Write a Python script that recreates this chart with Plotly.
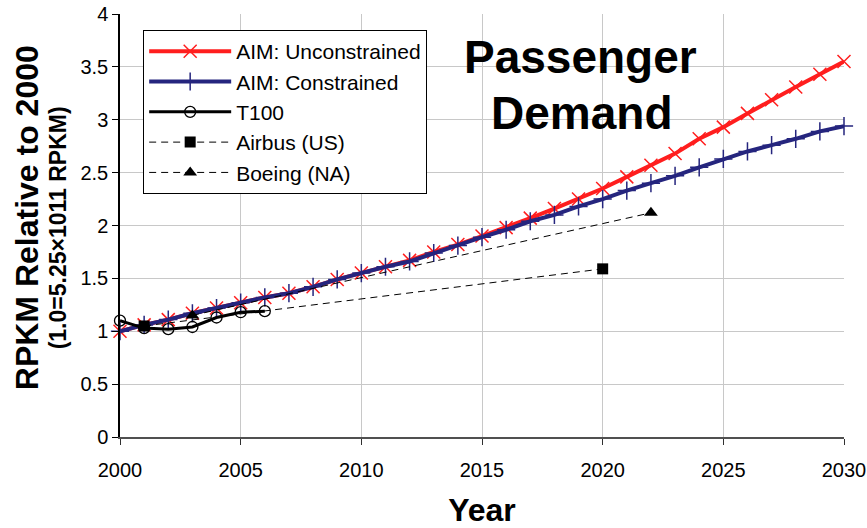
import plotly.graph_objects as go

# Revenue passenger-km relative to the year 2000
years = list(range(2000, 2031))

aim_unconstrained = [1.00, 1.06, 1.11, 1.17, 1.22, 1.27, 1.32, 1.36, 1.42, 1.49,
                     1.55, 1.61, 1.67, 1.75, 1.82, 1.90, 1.98, 2.07, 2.16, 2.25,
                     2.35, 2.46, 2.57, 2.68, 2.82, 2.93, 3.06, 3.19, 3.31, 3.43,
                     3.55]
aim_constrained = [1.00, 1.06, 1.11, 1.17, 1.22, 1.27, 1.32, 1.36, 1.42, 1.49,
                   1.55, 1.61, 1.66, 1.74, 1.81, 1.89, 1.96, 2.04, 2.10, 2.18,
                   2.25, 2.33, 2.40, 2.47, 2.55, 2.63, 2.70, 2.76, 2.82, 2.89,
                   2.94]

t100_years = [2000, 2001, 2002, 2003, 2004, 2005, 2006]
t100_values = [1.10, 1.03, 1.02, 1.04, 1.13, 1.18, 1.19]

airbus_years = [2001, 2020]
airbus_values = [1.05, 1.59]

boeing_years = [2003, 2022]
boeing_values = [1.15, 2.12]

x_ticks = [2000, 2005, 2010, 2015, 2020, 2025, 2030]
y_ticks = [0, 0.5, 1, 1.5, 2, 2.5, 3, 3.5, 4]

FONT = "Liberation Sans, Arial, sans-serif"
RED = "#FF1E1E"
NAVY = "#25257E"

fig = go.Figure()

fig.add_trace(go.Scatter(
    x=years, y=aim_unconstrained, name="AIM: Unconstrained",
    mode="lines+markers", legendgroup="a",
    line=dict(color=RED, width=4),
    marker=dict(symbol="x-thin", size=13, line=dict(color=RED, width=1.5)),
    cliponaxis=False,
))
fig.add_trace(go.Scatter(
    x=years, y=aim_constrained, name="AIM: Constrained",
    mode="lines+markers", legendgroup="b",
    line=dict(color=NAVY, width=4),
    marker=dict(symbol="cross-thin", size=13, line=dict(color=NAVY, width=1.5)),
    cliponaxis=False,
))
fig.add_trace(go.Scatter(
    x=t100_years, y=t100_values, name="T100",
    mode="lines+markers", legendgroup="c",
    line=dict(color="black", width=3),
    marker=dict(symbol="circle-open", size=11, color="black",
                line=dict(color="black", width=1.3)),
    cliponaxis=False,
))
fig.add_trace(go.Scatter(
    x=airbus_years, y=airbus_values, name="Airbus (US)",
    mode="lines+markers", legendgroup="d",
    line=dict(color="black", width=1, dash="7px,5px"),
    marker=dict(symbol="square", size=11, color="black"),
    cliponaxis=False,
))
fig.add_trace(go.Scatter(
    x=boeing_years, y=boeing_values, name="Boeing (NA)",
    mode="lines+markers", legendgroup="e",
    line=dict(color="black", width=1, dash="7px,5px"),
    marker=dict(symbol="triangle-up", size=12, color="black"),
    cliponaxis=False,
))

# Y-axis title in two sizes, plus the chart heading inside the plot area
annotations = [
    dict(text="<b>RPKM Relative to 2000</b>", x=-0.128, y=0.518,
         xref="paper", yref="paper", textangle=-90, showarrow=False,
         xanchor="center", yanchor="middle",
         font=dict(family=FONT, size=32, color="black")),
    dict(text="<b>(1.0=5.25×1011 RPKM)</b>", x=-0.086, y=0.495,
         xref="paper", yref="paper", textangle=-90, showarrow=False,
         xanchor="center", yanchor="middle",
         font=dict(family=FONT, size=23, color="black")),
    dict(text="<b>Passenger</b>", x=0.636, y=0.898,
         xref="paper", yref="paper", showarrow=False,
         xanchor="center", yanchor="middle",
         font=dict(family=FONT, size=46, color="black")),
    dict(text="<b>Demand</b>", x=0.638, y=0.765,
         xref="paper", yref="paper", showarrow=False,
         xanchor="center", yanchor="middle",
         font=dict(family=FONT, size=46, color="black")),
    dict(text="<b>S</b>", x=-0.138, y=-0.2,
         xref="paper", yref="paper", showarrow=False,
         xanchor="center", yanchor="top",
         font=dict(family=FONT, size=34, color="black")),
]

fig.update_layout(
    width=867, height=528,
    margin=dict(l=120, r=23, t=14, b=91),
    paper_bgcolor="white", plot_bgcolor="white",
    font=dict(family=FONT, size=20, color="black"),
    showlegend=True,
    legend=dict(
        x=0.032, y=0.962, xanchor="left", yanchor="top",
        bgcolor="white", bordercolor="black", borderwidth=1,
        font=dict(family=FONT, size=21, color="black"),
        itemwidth=82, tracegroupgap=0,
    ),
    annotations=annotations,
)

fig.update_xaxes(
    range=[2000, 2030], tickvals=x_ticks, ticktext=[str(v) for v in x_ticks],
    automargin=False,
    showgrid=True, gridcolor="#C8C8C8", gridwidth=1,
    showline=True, linecolor="#505050", linewidth=1.5,
    ticks="outside", ticklen=6, tickcolor="#303030",
    ticklabelstandoff=8, zeroline=False,
    tickfont=dict(family=FONT, size=20, color="black"),
    title=dict(text="<b>Year</b>", standoff=26,
               font=dict(family=FONT, size=32, color="black")),
)
fig.update_yaxes(
    range=[0, 4], tickvals=y_ticks, ticktext=["0", "0.5", "1", "1.5", "2", "2.5", "3", "3.5", "4"],
    automargin=False,
    showgrid=True, gridcolor="#C8C8C8", gridwidth=1,
    showline=True, linecolor="black", linewidth=1.5,
    ticks="outside", ticklen=6, tickcolor="black",
    zeroline=False,
    tickfont=dict(family=FONT, size=20, color="black"),
)

fig.write_html("out.html")
